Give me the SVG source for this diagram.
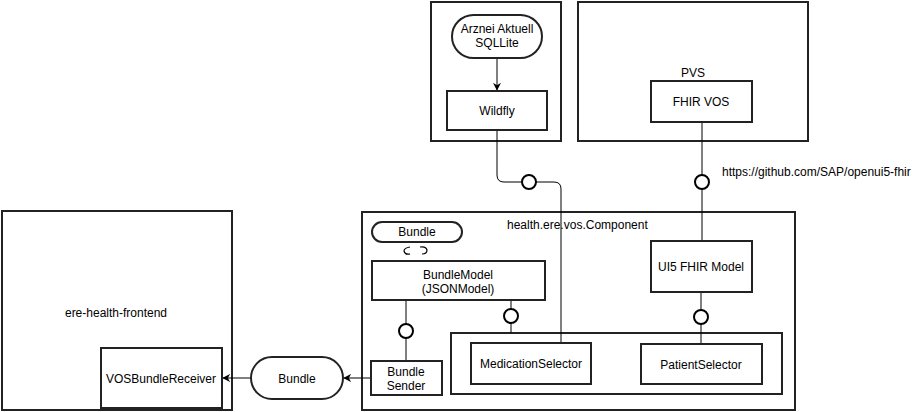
<svg xmlns="http://www.w3.org/2000/svg" width="922" height="412" viewBox="0 0 922 412">
<defs>
<style>
.box{fill:#fff;stroke:#222;stroke-width:2}
.t{font-family:"Liberation Sans",Arial,sans-serif;font-size:12px;fill:#000}
.c{text-anchor:middle}
.ln{fill:none;stroke:#000;stroke-width:1}
.lol{fill:#fff;stroke:#000;stroke-width:2}
</style>
<marker id="arr" viewBox="0 0 10 10" refX="9" refY="5" markerWidth="8" markerHeight="8" orient="auto" markerUnits="userSpaceOnUse">
<path d="M0,0 L10,5 L0,10 L3,5 Z" fill="#000"/>
</marker>
</defs>
<rect width="922" height="412" fill="#fff"/>

<g id="wildfly-container"><rect class="box" x="431" y="2" width="130" height="139"/></g>
<g id="pvs-container"><rect class="box" x="578" y="2" width="230" height="139"/>
<text class="t c" x="693" y="77">PVS</text></g>
<g id="frontend"><rect class="box" x="2" y="211" width="230" height="199"/>
<text class="t c" x="116" y="317">ere-health-frontend</text></g>
<g id="component"><rect class="box" x="362" y="212" width="433" height="198"/>
<text class="t" x="507" y="229">health.ere.vos.Component</text></g>
<g id="selectors"><rect class="box" x="451" y="333" width="331" height="61"/></g>

<g id="connectors">
<path class="ln" d="M497,58 V90" marker-end="url(#arr)"/>
<path class="ln" d="M497,130 V175 Q497,182 504,182 H522 M536,182 H554 Q561,182 561,189 V343"/>
<path class="ln" d="M702,122 V175 M702,189 V241"/>
<path class="ln" d="M701,292 V310 M701,324 V344"/>
<path class="ln" d="M406,300 V324 M406,338 V361"/>
<path class="ln" d="M511,300 V309 M511,323 V333"/>
<path class="ln" d="M371,378 H344" marker-end="url(#arr)" stroke-width="2"/>
<path class="ln" d="M251,378 H223" marker-end="url(#arr)" stroke-width="2"/>
<circle class="lol" cx="529" cy="182" r="7"/>
<circle class="lol" cx="702" cy="182" r="7"/>
<circle class="lol" cx="701" cy="317" r="7"/>
<circle class="lol" cx="406" cy="331" r="7"/>
<circle class="lol" cx="511" cy="316" r="7"/>
<text class="t" x="722" y="176">https://github.com/SAP/openui5-fhir</text>
</g>

<g id="arznei"><rect class="box" x="452" y="15" width="90" height="43" rx="21.5"/>
<text class="t c" x="497" y="33">Arznei Aktuell</text>
<text class="t c" x="497" y="47">SQLLite</text></g>
<g id="wildfly"><rect class="box" x="447" y="91" width="100" height="39"/>
<text class="t c" x="497" y="115">Wildfly</text></g>
<g id="fhir-vos"><rect class="box" x="651" y="81" width="101" height="41"/>
<text class="t c" x="701" y="106">FHIR VOS</text></g>
<g id="ui5-fhir-model"><rect class="box" x="651" y="241" width="101" height="51"/>
<text class="t c" x="701" y="271">UI5 FHIR Model</text></g>
<g id="bundle-top"><rect class="box" x="372" y="222" width="90" height="20" rx="10"/>
<text class="t c" x="417" y="236">Bundle</text>
<path d="M410,247 Q404,248 404,251 Q405,255 410,254" fill="none" stroke="#000" stroke-width="1.2"/>
<path d="M420,247 Q426,246 427,250 Q427,254 422,254" fill="none" stroke="#000" stroke-width="1.2"/></g>
<g id="bundle-model"><rect class="box" x="372" y="261" width="173" height="39"/>
<text class="t c" x="458" y="279">BundleModel</text>
<text class="t c" x="458" y="293">(JSONModel)</text></g>
<g id="bundle-sender"><rect class="box" x="371" y="361" width="71" height="34"/>
<text class="t c" x="406" y="376">Bundle</text>
<text class="t c" x="406" y="390">Sender</text></g>
<g id="medication-selector"><rect class="box" x="471" y="343" width="120" height="41"/>
<text class="t c" x="531" y="368">MedicationSelector</text></g>
<g id="patient-selector"><rect class="box" x="641" y="344" width="121" height="40"/>
<text class="t c" x="701" y="369">PatientSelector</text></g>
<g id="vos-bundle-receiver"><rect class="box" x="101" y="348" width="121" height="60"/>
<text class="t c" x="161" y="383">VOSBundleReceiver</text></g>
<g id="bundle-msg"><rect class="box" x="251" y="357" width="92" height="42" rx="21"/>
<text class="t c" x="297" y="383">Bundle</text></g>
</svg>
